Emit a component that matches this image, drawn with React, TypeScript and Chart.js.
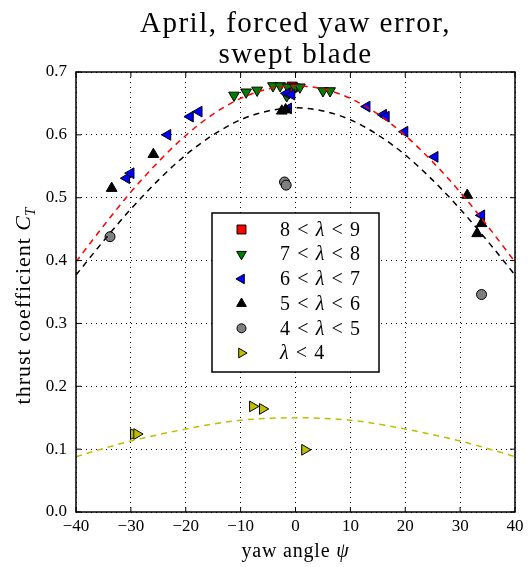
import React, { useEffect, useRef } from "react";
import { Chart, registerables } from "chart.js";

Chart.register(...registerables);

const TITLE_LINES = ["April, forced yaw error,", "swept blade"];
const X_LABEL = ["yaw angle ", "ψ"];
const Y_LABEL = ["thrust coefficient ", "C", "T"];
const X_TICKS = [-40, -30, -20, -10, 0, 10, 20, 30, 40];
const Y_TICKS = [0, 0.1, 0.2, 0.3, 0.4, 0.5, 0.6, 0.7];

// 8 < lambda < 9 (red squares)
const L89_X = [-0.6];
const L89_Y = [0.676];
// 7 < lambda < 8 (green down triangles)
const L78_X = [-11.2, -9.0, -7.0, -4.1, -2.8, -1.4, -0.1, 0.8, 5.0, 6.3, -1.6];
const L78_Y = [0.663, 0.668, 0.671, 0.678, 0.678, 0.676, 0.676, 0.676, 0.670, 0.670, 0.662];
// 6 < lambda < 7 (blue left triangles)
const L67_X = [-30.8, -30.0, -23.3, -19.2, -17.6, -1.6, -0.7, -1.3, 13.0, 16.0, 16.5, 19.9, 25.4, 33.9];
const L67_Y = [0.531, 0.539, 0.600, 0.629, 0.637, 0.666, 0.664, 0.642, 0.645, 0.632, 0.629, 0.605, 0.565, 0.472];
// 5 < lambda < 6 (black up triangles)
const L56_X = [-33.5, -25.9, -2.5, -1.8, 31.3, 33.9, 33.1];
const L56_Y = [0.515, 0.569, 0.638, 0.640, 0.504, 0.459, 0.443];
// 4 < lambda < 5 (grey circles)
const L45_X = [-33.8, -2.0, -1.7, 33.9];
const L45_Y = [0.438, 0.525, 0.520, 0.346];
// lambda < 4 (yellow right triangles)
const L4_X = [-29.5, -28.9, -7.8, -6.0, 1.7];
const L4_Y = [0.124, 0.124, 0.168, 0.164, 0.099];

// dashed fit curves, every 5 degrees
const FIT_X = [-40, -35, -30, -25, -20, -15, -10, -5, 0, 5, 10, 15, 20, 25, 30, 35, 40];
const FIT_RED = [0.398, 0.455, 0.509, 0.557, 0.599, 0.633, 0.658, 0.673, 0.678, 0.673, 0.658, 0.633, 0.599, 0.557, 0.509, 0.455, 0.398];
const FIT_BLACK = [0.377, 0.431, 0.482, 0.528, 0.568, 0.600, 0.624, 0.638, 0.643, 0.638, 0.624, 0.600, 0.568, 0.528, 0.482, 0.431, 0.377];
const FIT_YELLOW = [0.088, 0.101, 0.113, 0.123, 0.132, 0.140, 0.146, 0.149, 0.150, 0.149, 0.146, 0.140, 0.132, 0.123, 0.113, 0.101, 0.088];

const SERIES = [
  { label: "8 < λ < 9", xs: L89_X, ys: L89_Y, color: "#ff0000", style: "rect", rot: 0, r: 7 },
  { label: "7 < λ < 8", xs: L78_X, ys: L78_Y, color: "#008000", style: "triangle", rot: 180, r: 6.2 },
  { label: "6 < λ < 7", xs: L67_X, ys: L67_Y, color: "#0000ff", style: "triangle", rot: 270, r: 6.2 },
  { label: "5 < λ < 6", xs: L56_X, ys: L56_Y, color: "#000000", style: "triangle", rot: 0, r: 6.2 },
  { label: "4 < λ < 5", xs: L45_X, ys: L45_Y, color: "#808080", style: "circle", rot: 0, r: 5 },
  { label: "λ < 4", xs: L4_X, ys: L4_Y, color: "#bfbf00", style: "triangle", rot: 90, r: 6.2 },
];

const FITS = [
  { ys: FIT_RED, color: "#ff0000" },
  { ys: FIT_BLACK, color: "#000000" },
  { ys: FIT_YELLOW, color: "#bfbf00" },
];

const SERIF = "'Liberation Serif', 'Times New Roman', serif";

function fmtX(v: number) {
  return v < 0 ? "\u2212" + Math.abs(v) : String(v);
}

function drawMarker(ctx: CanvasRenderingContext2D, style: string, rot: number, x: number, y: number, r: number, fill: string) {
  ctx.save();
  ctx.fillStyle = fill;
  ctx.strokeStyle = "#000";
  ctx.lineWidth = 1;
  ctx.beginPath();
  if (style === "rect") {
    const s = r * Math.SQRT1_2;
    ctx.rect(x - s, y - s, 2 * s, 2 * s);
  } else if (style === "circle") {
    ctx.arc(x, y, r, 0, Math.PI * 2);
  } else {
    let rad = (rot * Math.PI) / 180;
    ctx.moveTo(x + Math.sin(rad) * r, y - Math.cos(rad) * r);
    rad += (2 * Math.PI) / 3;
    ctx.lineTo(x + Math.sin(rad) * r, y - Math.cos(rad) * r);
    rad += (2 * Math.PI) / 3;
    ctx.lineTo(x + Math.sin(rad) * r, y - Math.cos(rad) * r);
    ctx.closePath();
  }
  ctx.fill();
  ctx.stroke();
  ctx.restore();
}

function drawMathLabel(ctx: CanvasRenderingContext2D, label: string, x: number, y: number, size: number) {
  const tokens = label.split(" ");
  const gap = size * 0.36;
  let cx = x;
  tokens.forEach((t, i) => {
    ctx.font = (t === "λ" ? "italic " : "") + size + "px " + SERIF;
    ctx.fillText(t, cx, y);
    cx += ctx.measureText(t).width + (i < tokens.length - 1 ? gap : 0);
  });
}

const decorPlugin = {
  id: "decor",
  afterDatasetsDraw(chart: any) {
    const { ctx, chartArea: a, scales } = chart;
    ctx.save();
    // inward tick marks
    ctx.strokeStyle = "#000";
    ctx.lineWidth = 1;
    const tl = 5;
    ctx.beginPath();
    X_TICKS.forEach((v) => {
      const x = scales.x.getPixelForValue(v);
      ctx.moveTo(x, a.bottom);
      ctx.lineTo(x, a.bottom - tl);
      ctx.moveTo(x, a.top);
      ctx.lineTo(x, a.top + tl);
    });
    Y_TICKS.forEach((v) => {
      const y = scales.y.getPixelForValue(v);
      ctx.moveTo(a.left, y);
      ctx.lineTo(a.left + tl, y);
      ctx.moveTo(a.right, y);
      ctx.lineTo(a.right - tl, y);
    });
    ctx.stroke();
    // frame
    ctx.lineWidth = 1.5;
    ctx.strokeRect(a.left, a.top, a.right - a.left, a.bottom - a.top);

    // legend
    const lx = a.left + 136;
    const ly = a.top + 141;
    const lw = 167;
    const lh = 159;
    ctx.fillStyle = "#fff";
    ctx.fillRect(lx, ly, lw, lh);
    ctx.lineWidth = 1.5;
    ctx.strokeStyle = "#000";
    ctx.strokeRect(lx, ly, lw, lh);
    ctx.textBaseline = "middle";
    ctx.textAlign = "left";
    SERIES.forEach((s, i) => {
      const ry = ly + 16.5 + i * 24.7;
      drawMarker(ctx, s.style, s.rot, lx + 29.5, ry, s.r * 0.9, s.color);
      ctx.fillStyle = "#000";
      drawMathLabel(ctx, s.label, lx + 68, ry + 1, 20);
    });
    ctx.restore();
  },
  afterDraw(chart: any) {
    const { ctx, chartArea: a } = chart;
    ctx.save();
    ctx.fillStyle = "#000";
    ctx.textBaseline = "alphabetic";
    // title
    ctx.font = "29px " + SERIF;
    (ctx as any).letterSpacing = "1.5px";
    ctx.textAlign = "center";
    const cx = (a.left + a.right) / 2;
    ctx.fillText(TITLE_LINES[0], cx, 32);
    ctx.fillText(TITLE_LINES[1], cx, 63);

    // x label
    (ctx as any).letterSpacing = "0.8px";
    ctx.textAlign = "left";
    ctx.font = "20px " + SERIF;
    const w1 = ctx.measureText(X_LABEL[0]).width;
    ctx.font = "italic 20px " + SERIF;
    const w2 = ctx.measureText(X_LABEL[1]).width;
    let sx = cx - (w1 + w2) / 2;
    ctx.font = "20px " + SERIF;
    ctx.fillText(X_LABEL[0], sx, 557);
    ctx.font = "italic 20px " + SERIF;
    ctx.fillText(X_LABEL[1], sx + w1, 557);

    // y label (rotated)
    ctx.translate(30, 305);
    ctx.rotate(-Math.PI / 2);
    (ctx as any).letterSpacing = "1px";
    const fs = 22;
    ctx.font = fs + "px " + SERIF;
    const a1 = ctx.measureText(Y_LABEL[0]).width;
    ctx.font = "italic " + fs + "px " + SERIF;
    const a2 = ctx.measureText(Y_LABEL[1]).width;
    ctx.font = "italic " + Math.round(fs * 0.7) + "px " + SERIF;
    const a3 = ctx.measureText(Y_LABEL[2]).width;
    let px = -(a1 + a2 + a3) / 2;
    ctx.font = fs + "px " + SERIF;
    ctx.fillText(Y_LABEL[0], px, 0);
    px += a1;
    ctx.font = "italic " + fs + "px " + SERIF;
    ctx.fillText(Y_LABEL[1], px, 0);
    px += a2 - 1;
    ctx.font = "italic " + Math.round(fs * 0.7) + "px " + SERIF;
    ctx.fillText(Y_LABEL[2], px, fs * 0.22);
    ctx.restore();
  },
};

export default function App() {
  const ref = useRef<HTMLCanvasElement>(null);
  useEffect(() => {
    if (!ref.current) return;
    const scatterSets = SERIES.map((s, i) => ({
      type: "scatter" as const,
      label: s.label,
      data: s.xs.map((x, j) => ({ x, y: s.ys[j] })),
      pointStyle: s.style,
      pointRotation: s.rot,
      pointRadius: s.r,
      pointBackgroundColor: s.color,
      pointBorderColor: "#000",
      pointBorderWidth: 1,
      backgroundColor: s.color,
      borderColor: "#000",
      showLine: false,
      order: SERIES.length - i,
    }));
    const fitSets = FITS.map((f) => ({
      type: "scatter" as const,
      label: "",
      data: FIT_X.map((x, j) => ({ x, y: f.ys[j] })),
      showLine: true,
      pointRadius: 0,
      borderColor: f.color,
      borderWidth: 1.5,
      borderDash: [6, 5],
      cubicInterpolationMode: "monotone" as const,
      fill: false,
      order: 0,
    }));
    const tickFont = { family: SERIF, size: 17 };
    const chart = new Chart(ref.current, {
      type: "scatter",
      data: { datasets: [...fitSets, ...scatterSets] as any },
      options: {
        animation: false,
        responsive: false,
        maintainAspectRatio: false,
        layout: { padding: { top: 72, right: 13, left: 0, bottom: 0 } },
        plugins: {
          legend: { display: false },
          title: { display: false },
          tooltip: { enabled: false },
        },
        scales: {
          x: {
            type: "linear",
            min: -40,
            max: 40,
            afterBuildTicks: (s: any) => {
              s.ticks = X_TICKS.map((v) => ({ value: v }));
            },
            afterFit: (s: any) => {
              s.height = 55;
            },
            ticks: {
              callback: (v: any) => fmtX(Number(v)),
              font: tickFont,
              color: "#000",
              padding: 4,
              maxRotation: 0,
              autoSkip: false,
            },
            grid: { color: "#000", lineWidth: 1, drawTicks: false },
            border: { display: false, dash: [1, 4] },
          },
          y: {
            type: "linear",
            min: 0,
            max: 0.7,
            afterBuildTicks: (s: any) => {
              s.ticks = Y_TICKS.map((v) => ({ value: v }));
            },
            afterFit: (s: any) => {
              s.width = 76;
            },
            ticks: {
              callback: (v: any) => Number(v).toFixed(1),
              font: tickFont,
              color: "#000",
              padding: 9,
              autoSkip: false,
            },
            grid: { color: "#000", lineWidth: 1, drawTicks: false },
            border: { display: false, dash: [1, 4] },
          },
        },
      } as any,
      plugins: [decorPlugin],
    });
    return () => chart.destroy();
  }, []);
  return (
    <div style={{ position: "absolute", left: 0, top: 0, width: 528, height: 567, background: "#fff" }}>
      <canvas ref={ref} width={528} height={567} style={{ display: "block", width: 528, height: 567 }} />
    </div>
  );
}
